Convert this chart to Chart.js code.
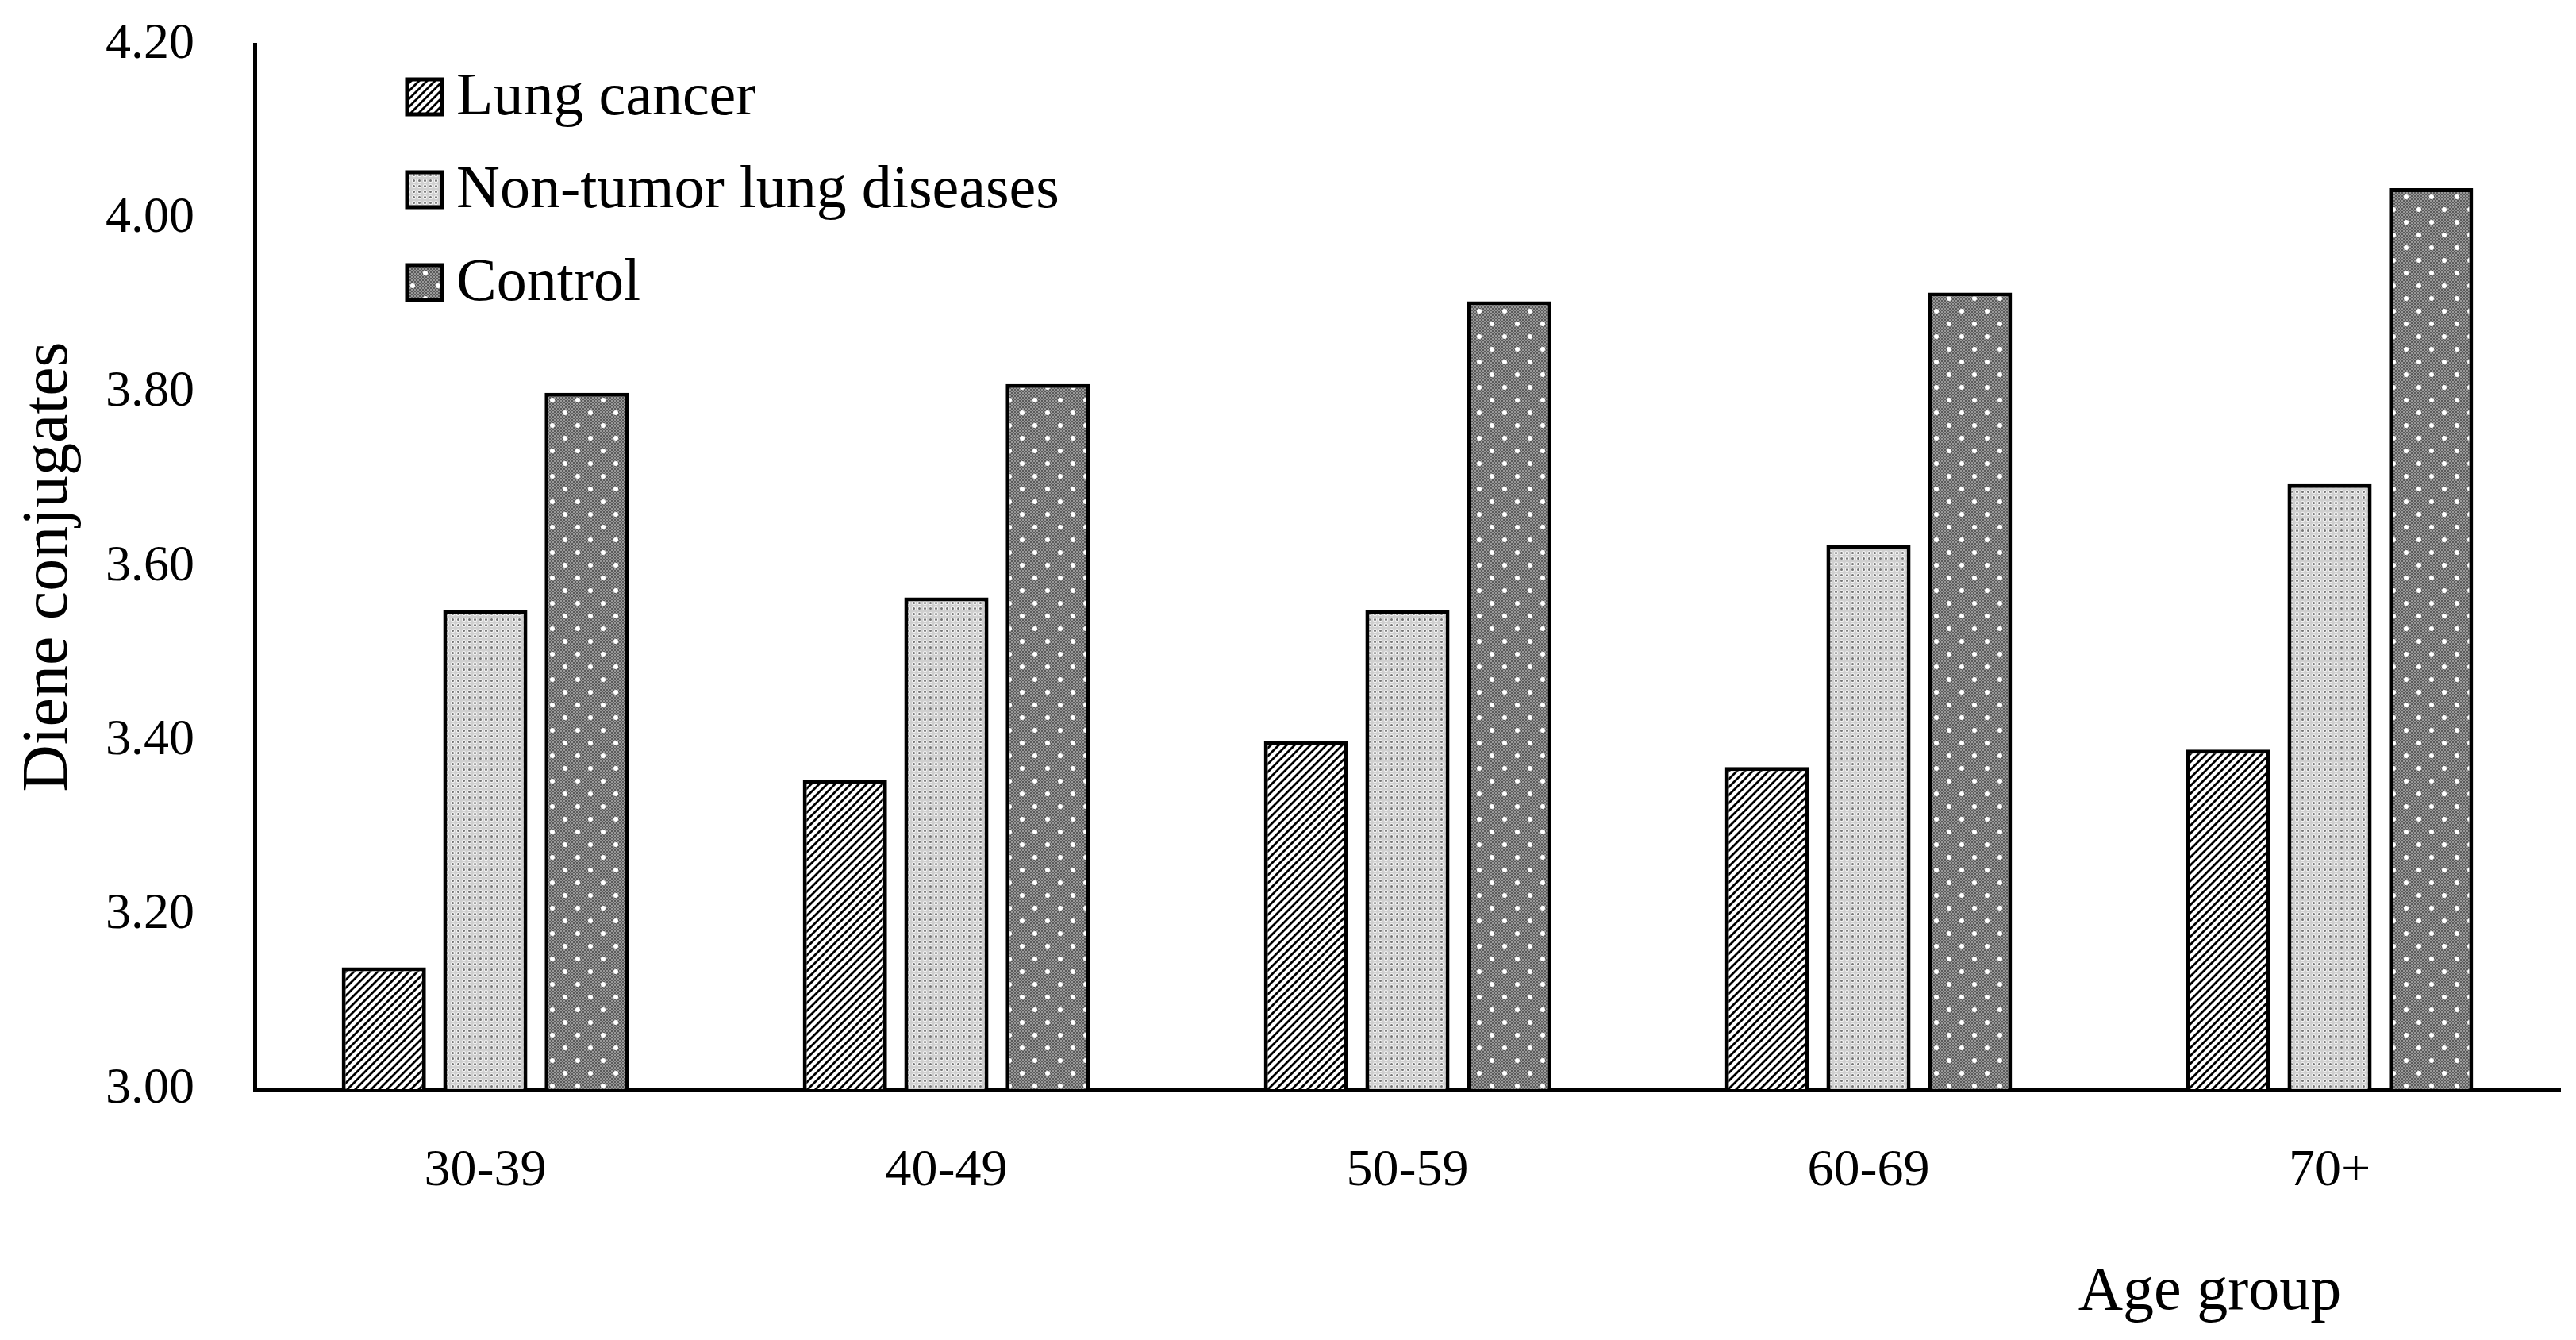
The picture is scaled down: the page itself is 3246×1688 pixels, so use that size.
<!DOCTYPE html>
<html>
<head>
<meta charset="utf-8">
<script src="https://cdn.jsdelivr.net/npm/chart.js@4.4.0/dist/chart.umd.min.js"></script>
<style>
  body { margin: 0; background: #fff; }
  canvas { display: block; }
</style>
</head>
<body>
<canvas id="dieneChart" width="3246" height="1688"></canvas>
<script>
const ageGroups = ["30-39", "40-49", "50-59", "60-69", "70+"];
const lungCancer = [3.14, 3.355, 3.40, 3.37, 3.39];
const nonTumor = [3.55, 3.565, 3.55, 3.625, 3.695];
const control = [3.80, 3.81, 3.905, 3.915, 4.035];
const seriesNames = ["Lung cancer", "Non-tumor lung diseases", "Control"];

const fontFamily = "'Liberation Serif', 'Times New Roman', serif";

// patterns
const makeTile = function (size, draw) {
  const c = document.createElement("canvas");
  c.width = size;
  c.height = size;
  const g = c.getContext("2d");
  draw(g, size);
  return document.createElement("canvas").getContext("2d").createPattern(c, "repeat");
};

const hatchPattern = makeTile(10, function (g, s) {
  g.fillStyle = "#fff";
  g.fillRect(0, 0, s, s);
  g.strokeStyle = "#000";
  g.lineWidth = 2.8;
  g.beginPath();
  g.moveTo(-s, 2 * s);
  g.lineTo(2 * s, -s);
  g.moveTo(-s, s);
  g.lineTo(s, -s);
  g.moveTo(0, 2 * s);
  g.lineTo(2 * s, 0);
  g.stroke();
});

const lightDots = makeTile(7, function (g, s) {
  g.fillStyle = "#cfcfcf";
  g.fillRect(0, 0, s, s);
  g.fillStyle = "#f4f4f4";
  g.beginPath();
  g.arc(3.5, 3.5, 2.6, 0, Math.PI * 2);
  g.fill();
  g.fillStyle = "#747474";
  g.beginPath();
  g.arc(3.5, 3.5, 1.5, 0, Math.PI * 2);
  g.fill();
});

const darkDots = makeTile(32, function (g, s) {
  g.fillStyle = "#9a9a9a";
  g.fillRect(0, 0, s, s);
  g.fillStyle = "#5a5a5a";
  for (let y = 0; y < s; y += 2) {
    for (let x = (y / 2) % 2 === 0 ? 0 : 2; x < s; x += 4) {
      g.fillRect(x, y, 2, 2);
    }
  }
  g.fillStyle = "#fff";
  [[8, 8], [24, 24]].forEach(function (p) {
    g.beginPath();
    g.arc(p[0], p[1], 3, 0, Math.PI * 2);
    g.fill();
  });
});

const fills = [hatchPattern, lightDots, darkDots];

// legend drawn inside the plot, top left
const boxLegend = {
  id: "boxLegend",
  afterDatasetsDraw(chart) {
    const ctx = chart.ctx;
    const area = chart.chartArea;
    ctx.save();
    ctx.font = "76px " + fontFamily;
    ctx.textBaseline = "middle";
    ctx.textAlign = "left";
    seriesNames.forEach(function (name, i) {
      const cy = area.top + 66 + i * 117;
      const bx = area.left + 192;
      ctx.fillStyle = fills[i];
      ctx.fillRect(bx, cy - 22, 44, 44);
      ctx.lineWidth = 5;
      ctx.strokeStyle = "#000";
      ctx.strokeRect(bx, cy - 22, 44, 44);
      ctx.fillStyle = "#000";
      ctx.fillText(name, bx + 62, cy + 2);
    });
    ctx.restore();
  },
};

// x axis title sits to the right, under the last groups
const xTitle = {
  id: "xTitle",
  afterDraw(chart) {
    const ctx = chart.ctx;
    const area = chart.chartArea;
    ctx.save();
    ctx.font = "78px " + fontFamily;
    ctx.fillStyle = "#000";
    ctx.textAlign = "center";
    ctx.textBaseline = "middle";
    ctx.fillText("Age group", area.left + (area.right - area.left) * 0.848, area.bottom + 257);
    ctx.restore();
  },
};

const datasets = [lungCancer, nonTumor, control].map(function (values, i) {
  return {
    label: seriesNames[i],
    data: values,
    backgroundColor: fills[i],
    borderColor: "#000",
    borderWidth: 5,
    borderSkipped: false,
    categoryPercentage: 0.66,
    barPercentage: 0.83,
  };
});

const ctx = document.getElementById("dieneChart").getContext("2d");
const chart = new Chart(ctx, {
  type: "bar",
  data: { labels: ageGroups, datasets: datasets },
  options: {
    responsive: false,
    animation: false,
    devicePixelRatio: 1,
    layout: { padding: { top: 56, right: 20, left: 0, bottom: 0 } },
    plugins: {
      legend: { display: false },
      tooltip: { enabled: false },
    },
    scales: {
      x: {
        grid: { display: false, drawTicks: false },
        border: { display: true, color: "#000", width: 5 },
        ticks: { color: "#000", padding: 64, font: { family: fontFamily, size: 66 } },
        afterFit: function (scale) { scale.height = 316; },
      },
      y: {
        min: 3,
        max: 4.2,
        grid: { display: false, drawTicks: false },
        border: { display: true, color: "#000", width: 5 },
        ticks: {
          stepSize: 0.2,
          color: "#000",
          padding: 76,
          font: { family: fontFamily, size: 64 },
          callback: function (v) { return Number(v).toFixed(2); },
        },
        title: {
          display: true,
          text: "Diene conjugates",
          color: "#000",
          font: { family: fontFamily, size: 82, lineHeight: 1.2 },
          padding: { top: 13, bottom: 0 },
        },
        afterFit: function (scale) {
          scale.width = 321;
          scale.paddingTop = 0;
          scale.paddingBottom = 0;
        },
      },
    },
  },
  plugins: [boxLegend, xTitle],
});
</script>
</body>
</html>
